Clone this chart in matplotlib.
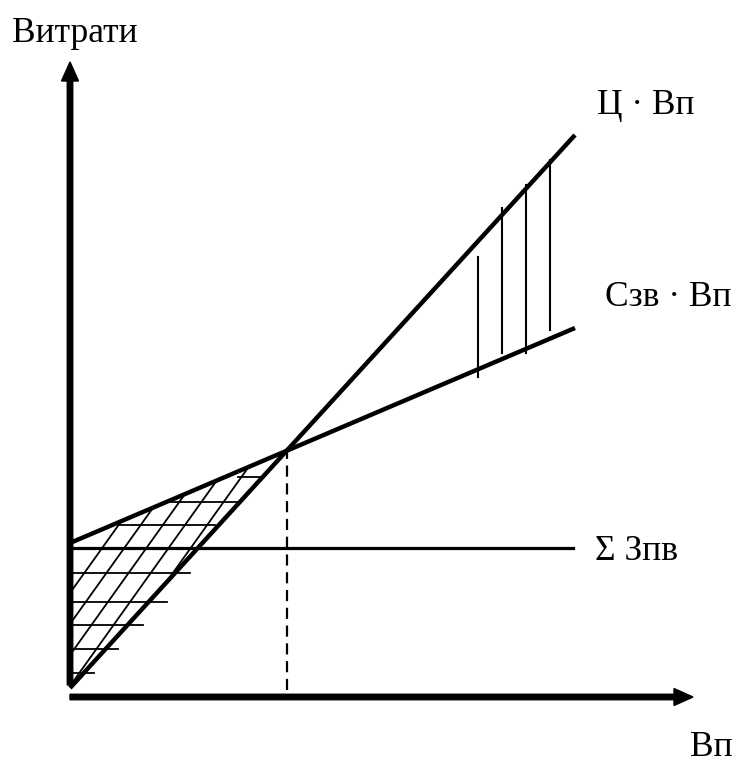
import numpy as np
import matplotlib.pyplot as plt

# break-even chart, units are roughly picture pixels measured from the origin
vol = np.array([0, 505])
revenue = np.array([9, 562])        # Ц · Вп
total_cost = np.array([154, 369])   # Сзв · Вп
fixed_vol = np.array([0, 503])
fixed_cost = np.array([149, 149])   # Σ Зпв

# hatching of the loss zone
hatch_y = [220, 195, 172, 124, 95, 72, 48, 24]
hatch_x0 = [168, 95, 48, 1, 1, 1, 1, 1]
hatch_x1 = [192, 170, 145, 120, 97, 73, 48, 24]
diag_slope = 1.4
diag_b = [104, 73, 42, 11, -20]

# hatching of the profit zone
prof_x = [408, 432, 456, 480]
prof_top = [440, 489, 512, 537]
prof_bot = [320, 344, 344, 367]

r_k = (revenue[1] - revenue[0]) / (vol[1] - vol[0])
c_k = (total_cost[1] - total_cost[0]) / (vol[1] - vol[0])
be_x = (total_cost[0] - revenue[0]) / (r_k - c_k)
be_y = revenue[0] + r_k * be_x

plt.rcParams['font.family'] = ['Liberation Serif', 'DejaVu Serif']
fig = plt.figure(figsize=(7.39, 7.63), dpi=100)
ax = fig.add_axes([0, 0, 1, 1])
ax.set_xlim(-70, 669)
ax.set_ylim(-66, 697)
ax.axis('off')

# axes with arrows
ax.arrow(0, 0, 623, 0, width=5.5, head_width=17, head_length=19,
         length_includes_head=True, color='black')
ax.arrow(0, 12, 0, 623, width=5.5, head_width=17, head_length=19,
         length_includes_head=True, color='black')

ax.plot(vol, revenue, color='black', lw=3.2, solid_capstyle='butt')
ax.plot(vol, total_cost, color='black', lw=3.2, solid_capstyle='butt')
ax.plot(fixed_vol, fixed_cost, color='black', lw=2.3)

ax.plot([be_x, be_x], [7, be_y], color='black', lw=1.6, ls=(0, (5, 3)))

for y, x0, x1 in zip(hatch_y, hatch_x0, hatch_x1):
    ax.plot([x0, x1], [y, y], color='black', lw=1.3)

for b in diag_b:
    xs = max(0, (revenue[0] - b) / (diag_slope - r_k))
    xe = (total_cost[0] - b) / (diag_slope - c_k)
    ax.plot([xs, xe], [b + diag_slope * xs, b + diag_slope * xe], color='black', lw=1.3)

for x, t, bt in zip(prof_x, prof_top, prof_bot):
    ax.plot([x, x], [bt, t], color='black', lw=1.5)

fs = 25.5
ax.text(-58, 655, 'Витрати', fontsize=fs, va='baseline', ha='left')
ax.text(527, 583, 'Ц · Вп', fontsize=fs, va='baseline', ha='left')
ax.text(535, 391, 'Сзв · Вп', fontsize=fs, va='baseline', ha='left')
ax.text(525, 137, 'Σ Зпв', fontsize=fs, va='baseline', ha='left')
ax.text(641, -59, 'Вп', fontsize=fs, va='baseline', ha='center')

plt.savefig('out.png', dpi=100)
